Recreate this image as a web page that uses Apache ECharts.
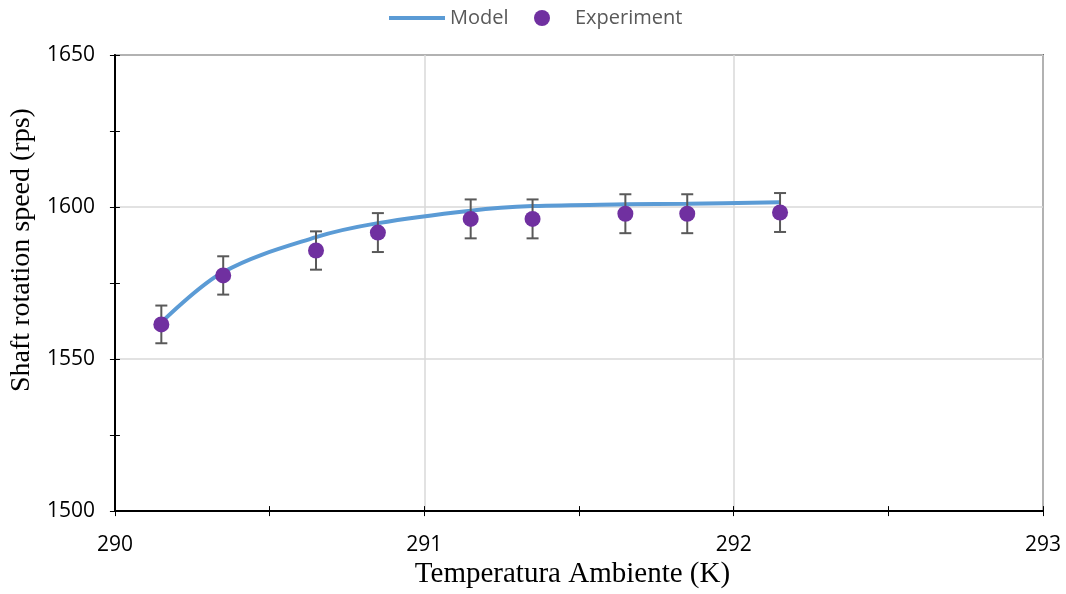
<!DOCTYPE html>
<html>
<head>
<meta charset="utf-8">
<style>
  html, body { margin: 0; padding: 0; background: #fff; }
  #chart { width: 1066px; height: 594px; }
</style>
<script src="https://cdn.jsdelivr.net/npm/echarts@6/dist/echarts.min.js"></script>
</head>
<body>
<div id="chart"></div>
<script>
// ambient temperature (K) at each measurement
const temps = [290.15, 290.35, 290.65, 290.85, 291.15, 291.35, 291.65, 291.85, 292.15];
// model prediction (rps)
const modelSpeed = [1562.0, 1578.6, 1590.1, 1594.7, 1598.8, 1600.3, 1600.9, 1601.1, 1601.6];
// measured shaft speed (rps) and its error bar half-width
const expSpeed = [1561.4, 1577.5, 1585.7, 1591.6, 1596.1, 1596.1, 1597.8, 1597.8, 1598.2];
const expError = [6.2, 6.3, 6.3, 6.4, 6.4, 6.4, 6.4, 6.4, 6.4];

const modelData = temps.map((t, i) => [t, modelSpeed[i]]);
const expData = temps.map((t, i) => [t, expSpeed[i]]);
const errData = temps.map((t, i) => [t, expSpeed[i] - expError[i], expSpeed[i] + expError[i]]);

const tickFont = { fontFamily: "Open Sans", fontSize: 21, color: "#000" };
const legendFont = { fontFamily: "Open Sans", fontSize: 20, color: "#595959" };
const gridLine = { show: true, lineStyle: { color: "#d9d9d9", width: 1.5 } };

// the secondary axes only draw the inner half of the crossing ticks
const xBase = { type: "value", min: 290, max: 293, interval: 1 };
const yBase = { type: "value", min: 1500, max: 1650, interval: 50 };

const option = {
  animation: false,
  grid: {
    left: 114, right: 23, top: 55, bottom: 80,
    show: true, borderColor: "#000", borderWidth: 1.5
  },
  legend: [
    {
      top: 3,
      left: 384,
      itemWidth: 56,
      itemHeight: 4,
      icon: "rect",
      textStyle: legendFont,
      data: ["Model"]
    },
    {
      top: 3,
      left: 529,
      itemWidth: 56,
      itemHeight: 16,
      icon: "circle",
      textStyle: legendFont,
      data: ["Experiment"]
    }
  ],
  xAxis: [
    {
      ...xBase,
      name: "Temperatura Ambiente (K)",
      nameLocation: "middle",
      nameGap: 48,
      nameTextStyle: { fontFamily: "Liberation Serif", fontSize: 29, color: "#000", padding: [0, 13, 0, 0] },
      axisLine: { lineStyle: { color: "#000", width: 2 } },
      axisTick: { show: true, length: 5, lineStyle: { color: "#000" } },
      minorTick: { show: true, splitNumber: 2, length: 5, lineStyle: { color: "#000" } },
      axisLabel: { ...tickFont, margin: 23 },
      splitLine: gridLine
    },
    {
      ...xBase,
      position: "bottom",
      axisLine: { show: false },
      axisTick: { show: true, inside: true, length: 5, lineStyle: { color: "#000" } },
      minorTick: { show: true, splitNumber: 2, length: 5, lineStyle: { color: "#000" } },
      axisLabel: { show: false },
      splitLine: { show: false }
    }
  ],
  yAxis: [
    {
      ...yBase,
      name: "Shaft rotation speed (rps)",
      nameLocation: "middle",
      nameGap: 76,
      nameTextStyle: { fontFamily: "Liberation Serif", fontSize: 28, color: "#000", padding: [0, 0, 0, 66] },
      axisLine: { show: true, lineStyle: { color: "#000", width: 2 } },
      axisTick: { show: true, length: 5, lineStyle: { color: "#000" } },
      minorTick: { show: true, splitNumber: 2, length: 5, lineStyle: { color: "#000" } },
      axisLabel: { ...tickFont, margin: 20, formatter: (v) => String(v) },
      splitLine: gridLine
    },
    {
      ...yBase,
      position: "left",
      axisLine: { show: false },
      axisTick: { show: true, inside: true, length: 5, lineStyle: { color: "#000" } },
      minorTick: { show: true, splitNumber: 2, length: 5, lineStyle: { color: "#000" } },
      axisLabel: { show: false },
      splitLine: { show: false }
    }
  ],
  series: [
    {
      name: "Model",
      type: "line",
      data: modelData,
      smooth: 0.35,
      symbol: "none",
      lineStyle: { color: "#5b9bd5", width: 4 },
      itemStyle: { color: "#5b9bd5" },
      z: 2
    },
    {
      name: "errors",
      type: "custom",
      data: errData,
      encode: { x: 0, y: [1, 2] },
      z: 3,
      renderItem: (params, api) => {
        const lo = api.coord([api.value(0), api.value(1)]);
        const hi = api.coord([api.value(0), api.value(2)]);
        const w = 6;
        const style = { stroke: "#595959", lineWidth: 2 };
        return {
          type: "group",
          children: [
            { type: "line", shape: { x1: lo[0], y1: lo[1], x2: hi[0], y2: hi[1] }, style },
            { type: "line", shape: { x1: lo[0] - w, y1: lo[1], x2: lo[0] + w, y2: lo[1] }, style },
            { type: "line", shape: { x1: hi[0] - w, y1: hi[1], x2: hi[0] + w, y2: hi[1] }, style }
          ]
        };
      }
    },
    {
      name: "Experiment",
      type: "scatter",
      data: expData,
      symbol: "circle",
      symbolSize: 16,
      itemStyle: { color: "#7030a0", opacity: 1 },
      z: 4
    }
  ]
};

const chart = echarts.init(document.getElementById("chart"), null, { renderer: "canvas" });
chart.setOption(option);
</script>
</body>
</html>
